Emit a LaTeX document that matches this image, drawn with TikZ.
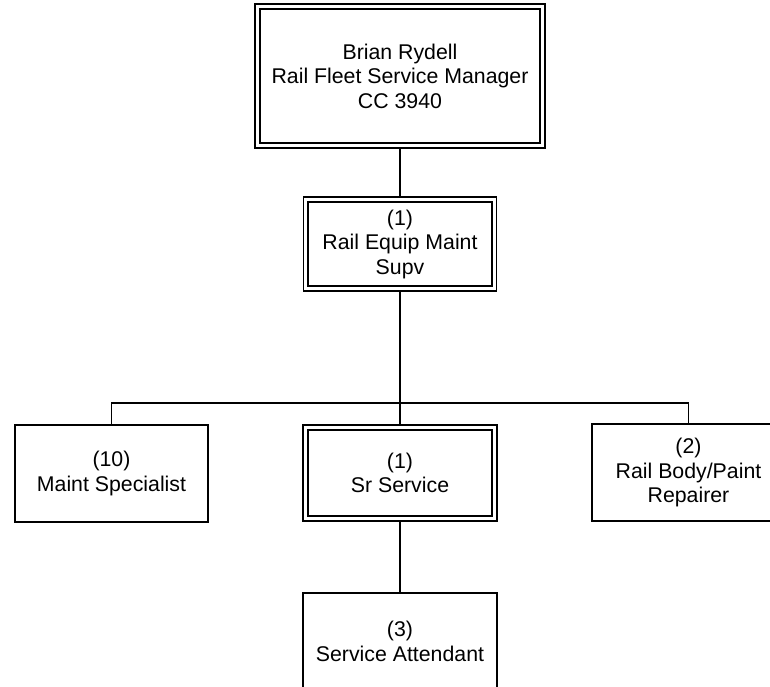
\documentclass[tikz,border=0pt]{standalone}
\usepackage{fontspec}
\setmainfont{Liberation Sans}
\begin{document}
\begin{tikzpicture}[x=1pt,y=-1pt,
  box/.style={draw=black, line width=1.2pt, fill=white, align=center, inner sep=0pt,
    font=\fontsize{21.3}{24.5}\selectfont},
  innerline/.style={draw=black, line width=2pt},
  conn/.style={draw=black, line width=1.3pt}]
\useasboundingbox (0,0) rectangle (770,686);
\clip (0,0) rectangle (770,686);
\fill[white] (0,0) rectangle (770,686);
% nodes
\node[box, minimum width=290pt, minimum height=144pt] (top) at (400,76) {Brian Rydell\\Rail Fleet Service Manager\\CC 3940};
\node[box, minimum width=193pt, minimum height=94pt] (sup) at (400,244) {(1)\\Rail Equip Maint\\Supv};
\node[box, minimum width=193pt, minimum height=97pt] (maint) at (111.5,473.5) {(10)\\Maint Specialist};
\node[box, minimum width=194pt, minimum height=96pt] (sr) at (400,473) {(1)\\Sr Service};
\node[box, minimum width=193pt, minimum height=97pt] (rail) at (688.5,472.5) {(2)\\Rail Body/Paint\\Repairer};
\node[box, minimum width=194pt, minimum height=97pt] (att) at (400,641.5) {(3)\\Service Attendant};
% inner borders
\foreach \n in {top,sup,sr}{
  \draw[innerline] ([shift={(5.5,5.5)}]\n.north west) rectangle ([shift={(-5.5,-5.5)}]\n.south east);
}
% connectors
\coordinate (bar) at (400,403);
\draw[conn] (top.south) -- (sup.north);
\draw[conn] (sup.south) -- (sr.north);
\draw[conn] (maint.north) |- (bar) -| (rail.north);
\draw[conn] (sr.south) -- (att.north);
\end{tikzpicture}
\end{document}
